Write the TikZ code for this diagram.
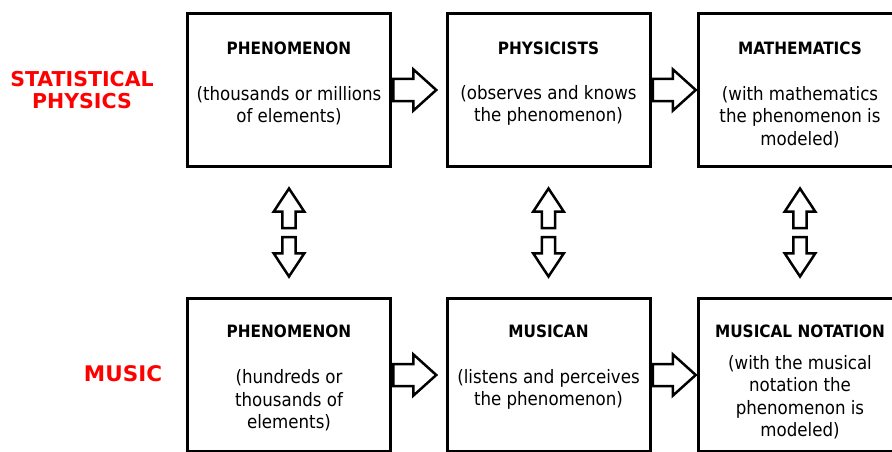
\documentclass[tikz,border=0pt]{standalone}
\usepackage{fontspec}
\setmainfont{DejaVu Sans Condensed}
\newfontfamily\labelfont{DejaVu Sans}
\definecolor{LabelRed}{HTML}{FF0000}
\usetikzlibrary{shapes.arrows, positioning, calc}

\begin{document}
\begin{tikzpicture}[
        x=1pt, y=-1pt,
        box/.style={draw, line width=3pt, minimum width=203pt, minimum height=153pt, inner sep=0pt},
        ttl/.style={font=\fontsize{17}{20}\selectfont\bfseries, align=center, inner sep=0pt},
        txt/.style={font=\fontsize{18.5}{22.5}\selectfont, align=center, inner sep=0pt},
        side/.style={font=\fontsize{20.5}{22}\selectfont\labelfont\bfseries, text=LabelRed, align=center, inner sep=0pt},
        harr/.style={single arrow, draw, line width=2.5pt, minimum height=43pt, inner sep=9.75pt, single arrow head extend=9.5pt, single arrow tip angle=84, anchor=tail},
        varr/.style={single arrow, draw, line width=2.5pt, minimum height=39.5pt, inner sep=5.3pt, single arrow head extend=8.8pt, single arrow tip angle=67, anchor=tail}
    ]
        \useasboundingbox (0,0) rectangle (892,452);
        \clip (0,0) rectangle (892,452);

        % side labels
        \node[side] (l1) at (82,90) {STATISTICAL\\PHYSICS};
        \node[side, font=\fontsize{21.5}{22}\selectfont\labelfont\bfseries] (l2) at (123,374) {MUSIC};

        % boxes
        \node[box] (s1) at (289,90) {};
        \node[box] (s2) at (548.5,90) {};
        \node[box] (s3) at (800,90) {};
        \node[box] (s4) at (289,375) {};
        \node[box] (s5) at (548.5,375) {};
        \node[box] (s6) at (800,375) {};

        \node[ttl] (t1) at ($(s1.north)+(0,36.5)$) {PHENOMENON};
        \node[ttl] (t2) at ($(s2.north)+(0,36.5)$) {PHYSICISTS};
        \node[ttl] (t3) at ($(s3.north)+(0,36.5)$) {MATHEMATICS};
        \node[ttl] (t4) at ($(s4.north)+(0,34.5)$) {PHENOMENON};
        \node[ttl] (t5) at ($(s5.north)+(0,34.5)$) {MUSICAN};
        \node[ttl] (t6) at ($(s6.north)+(0,34.5)$) {MUSICAL NOTATION};

        \node[txt] (b1) at ($(s1)+(0,15.5)$) {(thousands or millions\\of elements)};
        \node[txt] (b2) at ($(s2)+(0,15.5)$) {(observes and knows\\the phenomenon)};
        \node[txt] (b3) at ($(s3)+(0,27)$) {(with mathematics\\the phenomenon is\\modeled)};
        \node[txt] (b4) at ($(s4)+(0,25.5)$) {(hundreds or\\thousands of\\elements)};
        \node[txt] (b5) at ($(s5)+(0,14.5)$) {(listens and perceives\\the phenomenon)};
        \node[txt] (b6) at ($(s6)+(0,22)$) {(with the musical\\notation the\\phenomenon is\\modeled)};

        % block arrows
        \node[harr] (h1) at (s1.east) {};
        \node[harr] (h2) at (s2.east) {};
        \node[harr] (h3) at (s4.east) {};
        \node[harr] (h4) at (s5.east) {};
        \foreach \i/\j in {1/4, 2/5, 3/6} {
            \coordinate (m\i) at ($(s\i.south)!0.5!(s\j.north)$);
            \node[varr, shape border rotate=90] (u\i) at ($(m\i)+(0,-3.25)$) {};
            \node[varr, shape border rotate=270] (d\i) at ($(m\i)+(0,3.25)$) {};
        }
    \end{tikzpicture}
\end{document}
